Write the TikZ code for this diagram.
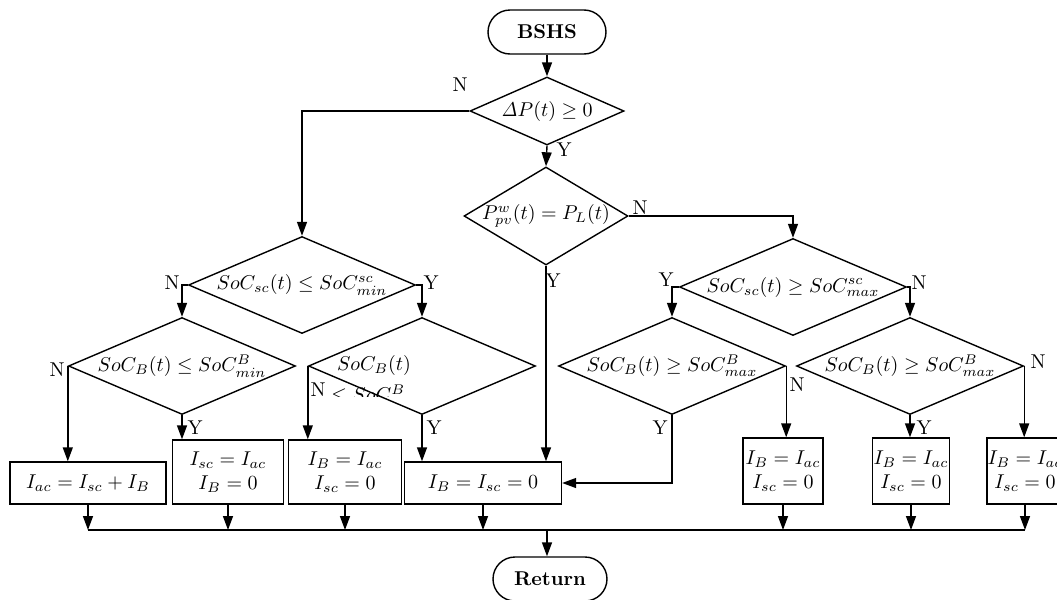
\documentclass[tikz,border=0pt]{standalone}
\usetikzlibrary{shapes.geometric,arrows.meta}
\tikzset{
  dec/.style={draw, diamond, inner sep=0pt, minimum width=113.5pt, minimum height=48.5pt},
  act/.style={draw, rectangle, inner sep=0pt, align=center},
  term/.style={draw, rectangle, rounded corners=11pt, inner sep=0pt, minimum height=22pt, font=\bfseries},
  yn/.style={inner sep=0pt},
}
\newcommand{\dtext}[1]{\makebox[0pt]{$#1$}}
\begin{document}
\begin{tikzpicture}[x=0.5pt, y=-0.5pt, >={Triangle[length=7pt,width=5pt]}, line width=0.7pt]
\useasboundingbox (0,0) rectangle (1057,600);
\clip (0,0) rectangle (1057,600);
% terminals
\node[term, minimum width=59pt] (start) at (547,32) {BSHS};
\node[term, minimum width=57pt] (ret) at (550,579) {Return};
% decisions
\node[dec, minimum width=77pt, minimum height=34pt] (d1) at (547,111) {\dtext{\mathit{\Delta} P(t) \geq 0}};
\node[dec, minimum width=82pt, minimum height=49pt] (d2) at (546,216) {\dtext{P^{w}_{pv}(t) = P_{L}(t)}};
\node[dec] (d3) at (302,285) {\dtext{SoC_{sc}(t) \leq SoC^{sc}_{min}}};
\node[dec] (d4) at (793,287) {\dtext{SoC_{sc}(t) \geq SoC^{sc}_{max}}};
\node[dec] (d5) at (182,366) {\dtext{SoC_{B}(t) \leq SoC^{B}_{min}}};
\node[dec] (d6) at (422,366) {};
\node (d6a) at (374,365) {$SoC_{B}(t)$};
\begin{scope}
\clip (320,380) rectangle (430,396);
\node (d6b) at (376,396) {$\leq SoC^{B}_{min}$};
\end{scope}
\node[dec] (d7) at (672,366) {\dtext{SoC_{B}(t) \geq SoC^{B}_{max}}};
\node[dec] (d8) at (910,366) {\dtext{SoC_{B}(t) \geq SoC^{B}_{max}}};
% actions
\node[act, minimum width=78pt, minimum height=21pt] (b1) at (88,483) {$I_{ac} = I_{sc} + I_{B}$};
\node[act, minimum width=55.5pt, minimum height=32pt] (b2) at (228,472) {$I_{sc} = I_{ac}$\\$I_{B} = 0$};
\node[act, minimum width=56.5pt, minimum height=32pt] (b3) at (345,472) {$I_{B} = I_{ac}$\\$I_{sc} = 0$};
\node[act, minimum width=78.5pt, minimum height=21pt] (b4) at (483,483) {$I_{B} = I_{sc} = 0$};
\node[act, minimum width=40pt, minimum height=33pt] (b5) at (783,471) {$I_{B} = I_{ac}$\\$I_{sc} = 0$};
\node[act, minimum width=38.5pt, minimum height=33pt] (b6) at (911,471) {$I_{B} = I_{ac}$\\$I_{sc} = 0$};
\node[act, minimum width=38pt, minimum height=33pt] (b7) at (1025,471) {$I_{B} = I_{ac}$\\$I_{sc} = 0$};
% branch labels
\node[yn] (n1) at (460,85) {N};
\node[yn] (y1) at (564,150) {Y};
\node[yn] (n2) at (640,208) {N};
\node[yn] (y2) at (553,281) {Y};
\node[yn] (n3) at (172,283) {N};
\node[yn] (y3) at (431,283) {Y};
\node[yn] (n4) at (57,370) {N};
\node[yn] (y4) at (195,428) {Y};
\node[yn] (n5) at (318,390) {N};
\node[yn] (y5) at (434,428) {Y};
\node[yn] (y6) at (666,280) {Y};
\node[yn] (n6) at (919,283) {N};
\node[yn] (y7) at (660,428) {Y};
\node[yn] (n7) at (797,385) {N};
\node[yn] (y8) at (924,428) {Y};
\node[yn] (n8) at (1038,362) {N};
% flow
\draw[->] (start) -- (d1);
\draw[->] (d1.west) -| (d3.north);
\draw[->] (d1.south) -- (d2.north);
\draw[->] (d2.east) -| (d4.north);
\draw[->] (d2.south) -- (d2.south |- b4.north);
\draw[->] (d3.west) -| (d5.north);
\draw[->] (d3.east) -| (d6.north);
\draw[->] (d5.west) -- (d5.west |- b1.north);
\draw[->] (d5.south) -- (d5.south |- b2.north);
\draw[->] (d6.west) -- (d6.west |- b3.north);
\draw[->] (d6.south) -- (d6.south |- b4.north);
\draw[->] (d4.west) -| (d7.north);
\draw[->] (d4.east) -| (d8.north);
\draw[->] (d7.south) |- (b4.east);
\draw[->] (d7.east) -- (d7.east |- b5.north);
\draw[->] (d8.south) -- (d8.south |- b6.north);
\draw[->] (d8.east) -- (d8.east |- b7.north);
% collector
\coordinate (bus) at (547,530);
\foreach \b in {b1,b2,b3,b4,b5,b6,b7}
  \draw[->] (\b.south) -- (\b.south |- bus);
\draw (b1.south |- bus) -- (b7.south |- bus);
\draw[->] (bus) -- (bus |- ret.north);
\end{tikzpicture}
\end{document}
